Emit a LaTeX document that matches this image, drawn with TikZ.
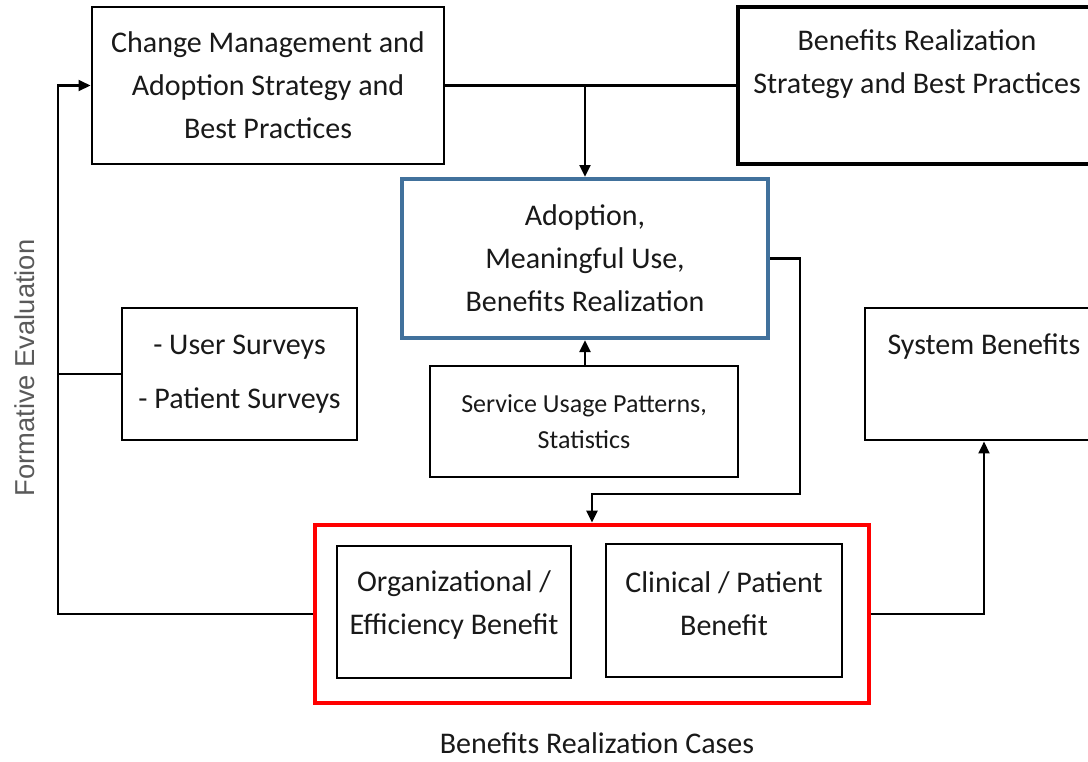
\documentclass[tikz,border=0pt]{standalone}
\usepackage{fontspec}
\setmainfont{Carlito}
\newfontfamily\arialfont{Liberation Sans}
\usetikzlibrary{arrows.meta}
\definecolor{boxblue}{RGB}{65,113,156}
\definecolor{boxred}{RGB}{255,0,0}
\definecolor{labelgray}{RGB}{89,89,89}
\begin{document}
\begin{tikzpicture}[x=0.75pt,y=-0.75pt,
  box/.style={draw=black, line width=2.1pt, align=center, inner sep=0pt},
  maintext/.style={font=\fontsize{22.5}{32.25}\selectfont, align=center, text=black!90},
  smalltext/.style={font=\fontsize{19.5}{27}\selectfont, align=center, text=black!90},
  conn/.style={line width=2.1pt},
  arr/.style={conn, -{Triangle[length=9pt,width=8pt]}}
]
\useasboundingbox (0,0) rectangle (1088,761);

% boxes
\node[box, maintext, minimum width=264pt, minimum height=117.75pt] (cm) at (268,85.5)
  {Change Management and\\Adoption Strategy and\\Best Practices};
\node[box, line width=2.6pt, minimum width=268.5pt, minimum height=117.75pt] (brs) at (917,85.5) {};
\node[maintext] (brstext) at (917,64.5) {Benefits Realization\\Strategy and Best Practices};

\node[box, maintext, draw=boxblue, line width=3pt, minimum width=274.5pt, minimum height=119.25pt] (adopt) at (585,258.5)
  {Adoption,\\Meaningful Use,\\Benefits Realization};

\node[box, minimum width=176.25pt, minimum height=99pt, font=\fontsize{22.5}{40.5}\selectfont, text=black!90] (surv) at (239.5,374)
  {- User Surveys\\- Patient Surveys};

\node[box, smalltext, minimum width=231pt, minimum height=83.25pt] (svc) at (584,421.5)
  {Service Usage Patterns,\\Statistics};

\node[box, minimum width=178.5pt, minimum height=99pt] (sys) at (984,374) {};
\node[maintext] (systext) at (984,347) {System Benefits};

\node[box, draw=boxred, line width=3.4pt, minimum width=415.5pt, minimum height=133.5pt] (red) at (592,614) {};
\node[box, minimum width=175.5pt, minimum height=99pt] (org) at (454,612) {};
\node[maintext] (orgtext) at (454,604.5) {Organizational /\\Efficiency Benefit};
\node[box, minimum width=177pt, minimum height=99.75pt] (clin) at (724,610.5) {};
\node[maintext] (clintext) at (724,603.5) {Clinical / Patient\\Benefit};

% labels
\node[maintext, inner sep=0pt] (cases) at (597,743) {Benefits Realization Cases};
\node[rotate=90, font=\arialfont\fontsize{20.5}{24}\selectfont, text=labelgray] (form) at (25,368) {Formative Evaluation};

% connectors
\coordinate (j1) at (585,85.5);
\coordinate (lft) at (58,614);
\coordinate (r1) at (800,494);
\draw[conn] (cm.east) -- (brs.west);
\draw[arr] (j1) -- (adopt.north);
\draw[arr] (svc.north -| adopt.south) -- (adopt.south);
\draw[arr] (red.west) -- (lft) |- (cm.west);
\draw[conn] (surv.west) -- (surv.west -| lft);
\draw[arr] (adopt.east) -| (r1) -| (red.north);
\draw[arr] (red.east) -| (sys.south);
\end{tikzpicture}
\end{document}
